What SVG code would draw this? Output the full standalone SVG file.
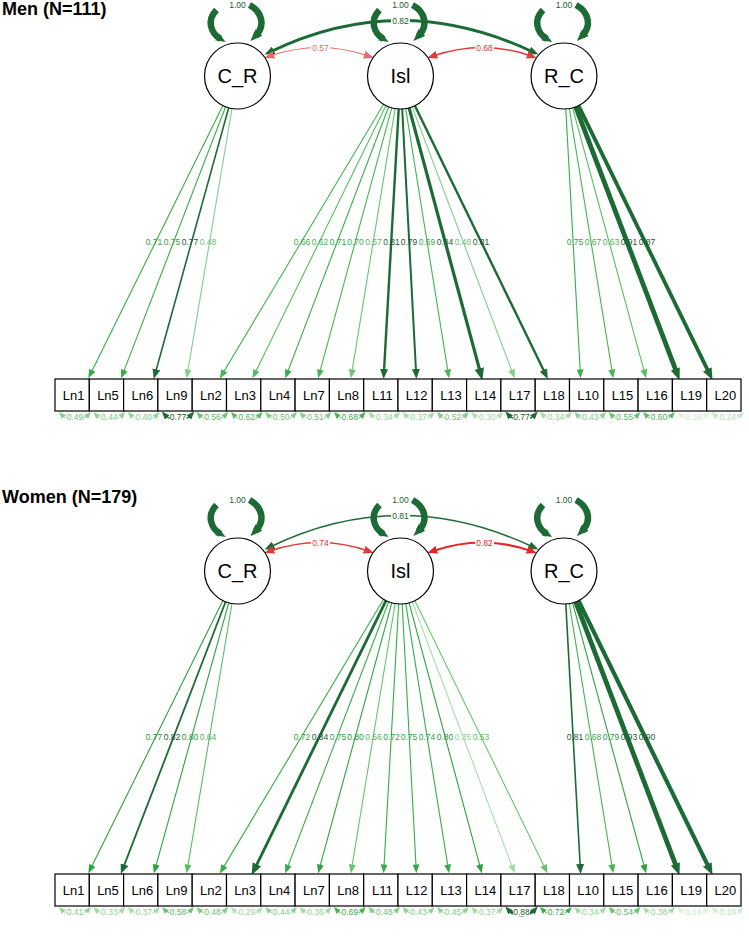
<svg xmlns="http://www.w3.org/2000/svg" xmlns:xlink="http://www.w3.org/1999/xlink" width="749" height="937" viewBox="0 0 749 937">
<style>
text{font-family:"Liberation Sans",Arial,Helvetica,sans-serif}
.t{font-weight:bold;font-size:18px}
.lt{font-size:20px;text-anchor:middle}
.ot{font-size:13px;text-anchor:middle}
.el{font-size:8.5px;text-anchor:middle}
.lat{fill:#fff;stroke:#000;stroke-width:1.2}
.obs{fill:#fff;stroke:#000;stroke-width:1.2}
.ld{fill:none;stroke-width:1.1}
.rs{fill:none;stroke-width:1.1}
.vl{fill:none;stroke:#1d6b34;stroke-width:6.5}
.cv{fill:none}
.ld.c35{stroke:#a3dca6;marker-end:url(#a-c35)}
.ld.c48{stroke:#7fcf85;marker-end:url(#a-c48)}
.ld.c56{stroke:#66c66f;marker-end:url(#a-c56)}
.ld.c62{stroke:#55bf60;marker-end:url(#a-c62)}
.ld.c68{stroke:#44b653;marker-end:url(#a-c68)}
.ld.c73{stroke:#36ad48;marker-end:url(#a-c73)}
.ld.c78{stroke:#2aa33f;marker-end:url(#a-c78)}
.ld.dk{stroke:#1d6b34;marker-end:url(#a-dk)}
.ld.dkL{stroke:#1d6b34;marker-end:url(#a-dkL)}
.rs.c14{stroke:#dcf1de;marker-start:url(#r-c14);marker-end:url(#r-c14)}
.rs.c19{stroke:#cfebd2;marker-start:url(#r-c19);marker-end:url(#r-c19)}
.rs.c24{stroke:#c2e6c6;marker-start:url(#r-c24);marker-end:url(#r-c24)}
.rs.c30{stroke:#b0dfb5;marker-start:url(#r-c30);marker-end:url(#r-c30)}
.rs.c35{stroke:#a3dca6;marker-start:url(#r-c35);marker-end:url(#r-c35)}
.rs.c42{stroke:#8fd493;marker-start:url(#r-c42);marker-end:url(#r-c42)}
.rs.c48{stroke:#7fcf85;marker-start:url(#r-c48);marker-end:url(#r-c48)}
.rs.c56{stroke:#66c66f;marker-start:url(#r-c56);marker-end:url(#r-c56)}
.rs.c62{stroke:#55bf60;marker-start:url(#r-c62);marker-end:url(#r-c62)}
.rs.c68{stroke:#44b653;marker-start:url(#r-c68);marker-end:url(#r-c68)}
.rs.c73{stroke:#36ad48;marker-start:url(#r-c73);marker-end:url(#r-c73)}
.rs.dk{stroke:#1d6b34;marker-start:url(#r-dk);marker-end:url(#r-dk)}
.x14{fill:#c8e9cb}.x19{fill:#bce4c0}.x24{fill:#acdeb1}.x30{fill:#9bd7a0}.x35{fill:#8ed294}
.x42{fill:#7ccb82}.x48{fill:#6bc372}.x56{fill:#56bb61}.x62{fill:#47b453}.x68{fill:#39ab48}
.x73{fill:#2ea23f}.x78{fill:#259a38}.xdk{fill:#1a5a2d}.xr1{fill:#e56b6b}.xr2{fill:#e03a3a}.xr3{fill:#e52424}
</style>
<defs>
<marker id="a-c35" viewBox="0 0 10 8" refX="4" refY="4" markerWidth="9" markerHeight="7" markerUnits="userSpaceOnUse" orient="auto-start-reverse"><path d="M0,0L10,4L0,8z" fill="#a3dca6"/></marker>
<marker id="a-c48" viewBox="0 0 10 8" refX="4" refY="4" markerWidth="9" markerHeight="7" markerUnits="userSpaceOnUse" orient="auto-start-reverse"><path d="M0,0L10,4L0,8z" fill="#7fcf85"/></marker>
<marker id="a-c56" viewBox="0 0 10 8" refX="4" refY="4" markerWidth="9" markerHeight="7" markerUnits="userSpaceOnUse" orient="auto-start-reverse"><path d="M0,0L10,4L0,8z" fill="#66c66f"/></marker>
<marker id="a-c62" viewBox="0 0 10 8" refX="4" refY="4" markerWidth="9" markerHeight="7" markerUnits="userSpaceOnUse" orient="auto-start-reverse"><path d="M0,0L10,4L0,8z" fill="#55bf60"/></marker>
<marker id="a-c68" viewBox="0 0 10 8" refX="4" refY="4" markerWidth="9" markerHeight="7" markerUnits="userSpaceOnUse" orient="auto-start-reverse"><path d="M0,0L10,4L0,8z" fill="#44b653"/></marker>
<marker id="a-c73" viewBox="0 0 10 8" refX="4" refY="4" markerWidth="9" markerHeight="7" markerUnits="userSpaceOnUse" orient="auto-start-reverse"><path d="M0,0L10,4L0,8z" fill="#36ad48"/></marker>
<marker id="a-c78" viewBox="0 0 10 8" refX="4" refY="4" markerWidth="9" markerHeight="7" markerUnits="userSpaceOnUse" orient="auto-start-reverse"><path d="M0,0L10,4L0,8z" fill="#2aa33f"/></marker>
<marker id="a-dk" viewBox="0 0 10 8" refX="4" refY="4" markerWidth="10" markerHeight="8" markerUnits="userSpaceOnUse" orient="auto-start-reverse"><path d="M0,0L10,4L0,8z" fill="#1d6b34"/></marker>
<marker id="a-dkL" viewBox="0 0 10 8" refX="4" refY="4" markerWidth="12" markerHeight="9.6" markerUnits="userSpaceOnUse" orient="auto-start-reverse"><path d="M0,0L10,4L0,8z" fill="#1d6b34"/></marker>
<marker id="a-r1" viewBox="0 0 10 8" refX="4" refY="4" markerWidth="10" markerHeight="8" markerUnits="userSpaceOnUse" orient="auto-start-reverse"><path d="M0,0L10,4L0,8z" fill="#e56b6b"/></marker>
<marker id="a-r2" viewBox="0 0 10 8" refX="4" refY="4" markerWidth="10" markerHeight="8" markerUnits="userSpaceOnUse" orient="auto-start-reverse"><path d="M0,0L10,4L0,8z" fill="#e03a3a"/></marker>
<marker id="a-r3" viewBox="0 0 10 8" refX="4" refY="4" markerWidth="10" markerHeight="8" markerUnits="userSpaceOnUse" orient="auto-start-reverse"><path d="M0,0L10,4L0,8z" fill="#e52424"/></marker>
<marker id="r-c14" viewBox="0 0 10 8" refX="4" refY="4" markerWidth="7" markerHeight="5.6" markerUnits="userSpaceOnUse" orient="auto-start-reverse"><path d="M0,0L10,4L0,8z" fill="#dcf1de"/></marker>
<marker id="r-c19" viewBox="0 0 10 8" refX="4" refY="4" markerWidth="7" markerHeight="5.6" markerUnits="userSpaceOnUse" orient="auto-start-reverse"><path d="M0,0L10,4L0,8z" fill="#cfebd2"/></marker>
<marker id="r-c24" viewBox="0 0 10 8" refX="4" refY="4" markerWidth="7" markerHeight="5.6" markerUnits="userSpaceOnUse" orient="auto-start-reverse"><path d="M0,0L10,4L0,8z" fill="#c2e6c6"/></marker>
<marker id="r-c30" viewBox="0 0 10 8" refX="4" refY="4" markerWidth="7" markerHeight="5.6" markerUnits="userSpaceOnUse" orient="auto-start-reverse"><path d="M0,0L10,4L0,8z" fill="#b0dfb5"/></marker>
<marker id="r-c35" viewBox="0 0 10 8" refX="4" refY="4" markerWidth="7" markerHeight="5.6" markerUnits="userSpaceOnUse" orient="auto-start-reverse"><path d="M0,0L10,4L0,8z" fill="#a3dca6"/></marker>
<marker id="r-c42" viewBox="0 0 10 8" refX="4" refY="4" markerWidth="7" markerHeight="5.6" markerUnits="userSpaceOnUse" orient="auto-start-reverse"><path d="M0,0L10,4L0,8z" fill="#8fd493"/></marker>
<marker id="r-c48" viewBox="0 0 10 8" refX="4" refY="4" markerWidth="7" markerHeight="5.6" markerUnits="userSpaceOnUse" orient="auto-start-reverse"><path d="M0,0L10,4L0,8z" fill="#7fcf85"/></marker>
<marker id="r-c56" viewBox="0 0 10 8" refX="4" refY="4" markerWidth="7" markerHeight="5.6" markerUnits="userSpaceOnUse" orient="auto-start-reverse"><path d="M0,0L10,4L0,8z" fill="#66c66f"/></marker>
<marker id="r-c62" viewBox="0 0 10 8" refX="4" refY="4" markerWidth="7" markerHeight="5.6" markerUnits="userSpaceOnUse" orient="auto-start-reverse"><path d="M0,0L10,4L0,8z" fill="#55bf60"/></marker>
<marker id="r-c68" viewBox="0 0 10 8" refX="4" refY="4" markerWidth="7" markerHeight="5.6" markerUnits="userSpaceOnUse" orient="auto-start-reverse"><path d="M0,0L10,4L0,8z" fill="#44b653"/></marker>
<marker id="r-c73" viewBox="0 0 10 8" refX="4" refY="4" markerWidth="7" markerHeight="5.6" markerUnits="userSpaceOnUse" orient="auto-start-reverse"><path d="M0,0L10,4L0,8z" fill="#36ad48"/></marker>
<marker id="r-dk" viewBox="0 0 10 8" refX="4" refY="4" markerWidth="8" markerHeight="6.4" markerUnits="userSpaceOnUse" orient="auto-start-reverse"><path d="M0,0L10,4L0,8z" fill="#1d6b34"/></marker>
<g id="res"><path d="M-13,415 C-7,421.5 7,421.5 13,415"/><rect x="-8.5" y="412.5" width="17" height="8.5" fill="#fff" stroke="none"/></g>
<g id="vloop"><path class="vl" d="M-21,10 C-31,20 -27,33 -17,39" marker-end="url(#a-dk)"/><path class="vl" d="M12,5 C25,12 28,26 18,36" marker-end="url(#a-dkL)"/><text class="el xdk" x="0" y="8">1.00</text></g>
</defs>
<rect width="749" height="937" fill="#fff"/>

<!-- ================= MEN ================= -->
<g id="men">
<text class="t" x="2" y="15">Men (N=111)</text>
<g id="m-connectors">
<path class="cv" d="M270,52 Q400,-11 533,52" stroke="#1d6b34" stroke-width="3" marker-start="url(#a-dk)" marker-end="url(#a-dk)"/>
<rect x="391" y="17" width="19" height="8" fill="#fff"/><text class="el xdk" x="400.5" y="23.5">0.82</text>
<path class="cv" d="M270,56 Q320,39 368,56" stroke="#e56b6b" stroke-width="1.1" marker-start="url(#a-r1)" marker-end="url(#a-r1)"/>
<rect x="311" y="44" width="19" height="8" fill="#fff"/><text class="el xr1" x="320.5" y="50.5">0.57</text>
<path class="cv" d="M433,56 Q483,39 531,56" stroke="#e03a3a" stroke-width="1.4" marker-start="url(#a-r2)" marker-end="url(#a-r2)"/>
<rect x="475" y="44" width="19" height="8" fill="#fff"/><text class="el xr2" x="484.5" y="50.5">0.68</text>
<use href="#vloop" x="237.5"/>
<use href="#vloop" x="400.5"/>
<use href="#vloop" x="564"/>
<line class="ld c73" x1="222.9" y1="105.6" x2="90.7" y2="373.6"/>
<line class="ld c73" x1="225.6" y1="106.8" x2="123.0" y2="373.4"/>
<line class="ld dk" style="stroke-width:1.6" x1="228.7" y1="107.8" x2="155.3" y2="373.2"/>
<line class="ld c48" x1="232.0" y1="108.5" x2="187.5" y2="373.1"/>
<line class="ld c68" x1="383.6" y1="104.3" x2="222.5" y2="373.9"/>
<line class="ld c62" x1="386.0" y1="105.6" x2="254.8" y2="373.6"/>
<line class="ld c73" x1="388.7" y1="106.8" x2="287.1" y2="373.4"/>
<line class="ld c68" x1="391.8" y1="107.8" x2="319.5" y2="373.2"/>
<line class="ld c56" x1="395.1" y1="108.6" x2="351.7" y2="373.1"/>
<line class="ld dk" style="stroke-width:2.4" x1="398.7" y1="108.9" x2="383.9" y2="373.0"/>
<line class="ld dk" style="stroke-width:2" x1="402.2" y1="109.0" x2="416.1" y2="373.0"/>
<line class="ld c68" x1="405.7" y1="108.6" x2="448.2" y2="373.1"/>
<line class="ld dkL" style="stroke-width:3.2" x1="409.1" y1="107.9" x2="480.5" y2="373.2"/>
<line class="ld c48" x1="412.2" y1="106.9" x2="512.8" y2="373.4"/>
<line class="ld dk" style="stroke-width:2.4" x1="414.9" y1="105.7" x2="545.2" y2="373.6"/>
<line class="ld c73" x1="565.8" y1="108.9" x2="580.3" y2="373.0"/>
<line class="ld c68" x1="569.3" y1="108.6" x2="612.4" y2="373.1"/>
<line class="ld c62" x1="572.6" y1="107.8" x2="644.7" y2="373.2"/>
<line class="ld dkL" style="stroke-width:4.8" x1="575.7" y1="106.9" x2="677.0" y2="373.4"/>
<line class="ld dkL" style="stroke-width:3.8" x1="578.5" y1="105.7" x2="709.4" y2="373.6"/>
<text class="el x73" x="154" y="245">0.71</text>
<text class="el x73" x="172" y="245">0.75</text>
<text class="el xdk" x="190" y="245">0.77</text>
<text class="el x48" x="208" y="245">0.48</text>
<text class="el x68" x="302" y="245">0.66</text>
<text class="el x62" x="320" y="245">0.62</text>
<text class="el x73" x="338" y="245">0.71</text>
<text class="el x68" x="355.5" y="245">0.70</text>
<text class="el x56" x="373.5" y="245">0.57</text>
<text class="el xdk" x="391.5" y="245">0.81</text>
<text class="el xdk" x="409" y="245">0.79</text>
<text class="el x68" x="427" y="245">0.69</text>
<text class="el xdk" x="445" y="245">0.84</text>
<text class="el x48" x="463" y="245">0.48</text>
<text class="el xdk" x="481" y="245">0.81</text>
<text class="el x73" x="575" y="245">0.75</text>
<text class="el x68" x="593" y="245">0.67</text>
<text class="el x62" x="611" y="245">0.63</text>
<text class="el xdk" x="629" y="245">0.91</text>
<text class="el xdk" x="647" y="245">0.87</text>
<use href="#res" x="75" class="rs c48"/><text class="el x48" x="75" y="419.5">0.49</text>
<use href="#res" x="109.35" class="rs c42"/><text class="el x42" x="109.35" y="419.5">0.44</text>
<use href="#res" x="143.7" class="rs c42"/><text class="el x42" x="143.7" y="419.5">0.40</text>
<use href="#res" x="178.05" class="rs dk" style="stroke-width:1.6"/><text class="el xdk" x="178.05" y="419.5">0.77</text>
<use href="#res" x="212.4" class="rs c56"/><text class="el x56" x="212.4" y="419.5">0.56</text>
<use href="#res" x="246.75" class="rs c62"/><text class="el x62" x="246.75" y="419.5">0.62</text>
<use href="#res" x="281.1" class="rs c48"/><text class="el x48" x="281.1" y="419.5">0.50</text>
<use href="#res" x="315.45" class="rs c48"/><text class="el x48" x="315.45" y="419.5">0.51</text>
<use href="#res" x="349.8" class="rs c68"/><text class="el x68" x="349.8" y="419.5">0.68</text>
<use href="#res" x="384.15" class="rs c35"/><text class="el x35" x="384.15" y="419.5">0.34</text>
<use href="#res" x="418.5" class="rs c35"/><text class="el x35" x="418.5" y="419.5">0.37</text>
<use href="#res" x="452.85" class="rs c48"/><text class="el x48" x="452.85" y="419.5">0.52</text>
<use href="#res" x="487.2" class="rs c30"/><text class="el x30" x="487.2" y="419.5">0.30</text>
<use href="#res" x="521.55" class="rs dk" style="stroke-width:1.6"/><text class="el xdk" x="521.55" y="419.5">0.77</text>
<use href="#res" x="555.9" class="rs c35"/><text class="el x35" x="555.9" y="419.5">0.34</text>
<use href="#res" x="590.25" class="rs c42"/><text class="el x42" x="590.25" y="419.5">0.43</text>
<use href="#res" x="624.6" class="rs c56"/><text class="el x56" x="624.6" y="419.5">0.55</text>
<use href="#res" x="658.95" class="rs c62"/><text class="el x62" x="658.95" y="419.5">0.60</text>
<use href="#res" x="693.3" class="rs c14"/><text class="el x14" x="693.3" y="419.5">0.16</text>
<use href="#res" x="727.65" class="rs c24"/><text class="el x24" x="727.65" y="419.5">0.24</text>
</g>
<g id="m-CR"><circle class="lat" cx="237.5" cy="76" r="33"/><text class="lt" x="237.5" y="83">C_R</text></g>
<g id="m-Isl"><circle class="lat" cx="400.5" cy="76" r="33"/><text class="lt" x="400.5" y="83">Isl</text></g>
<g id="m-RC"><circle class="lat" cx="564" cy="76" r="33"/><text class="lt" x="564" y="83">R_C</text></g>
<g id="m-Ln1"><rect class="obs" x="55" y="379" width="34.3" height="32"/><text class="ot" x="73.7" y="399.5">Ln1</text></g>
<g id="m-Ln5"><rect class="obs" x="89.3" y="379" width="34.3" height="32"/><text class="ot" x="108" y="399.5">Ln5</text></g>
<g id="m-Ln6"><rect class="obs" x="123.6" y="379" width="34.3" height="32"/><text class="ot" x="142.3" y="399.5">Ln6</text></g>
<g id="m-Ln9"><rect class="obs" x="157.9" y="379" width="34.3" height="32"/><text class="ot" x="176.6" y="399.5">Ln9</text></g>
<g id="m-Ln2"><rect class="obs" x="192.2" y="379" width="34.3" height="32"/><text class="ot" x="210.9" y="399.5">Ln2</text></g>
<g id="m-Ln3"><rect class="obs" x="226.5" y="379" width="34.3" height="32"/><text class="ot" x="245.2" y="399.5">Ln3</text></g>
<g id="m-Ln4"><rect class="obs" x="260.8" y="379" width="34.3" height="32"/><text class="ot" x="279.5" y="399.5">Ln4</text></g>
<g id="m-Ln7"><rect class="obs" x="295.1" y="379" width="34.3" height="32"/><text class="ot" x="313.8" y="399.5">Ln7</text></g>
<g id="m-Ln8"><rect class="obs" x="329.4" y="379" width="34.3" height="32"/><text class="ot" x="348.1" y="399.5">Ln8</text></g>
<g id="m-L11"><rect class="obs" x="363.7" y="379" width="34.3" height="32"/><text class="ot" x="382.4" y="399.5">L11</text></g>
<g id="m-L12"><rect class="obs" x="398" y="379" width="34.3" height="32"/><text class="ot" x="416.7" y="399.5">L12</text></g>
<g id="m-L13"><rect class="obs" x="432.3" y="379" width="34.3" height="32"/><text class="ot" x="451" y="399.5">L13</text></g>
<g id="m-L14"><rect class="obs" x="466.6" y="379" width="34.3" height="32"/><text class="ot" x="485.3" y="399.5">L14</text></g>
<g id="m-L17"><rect class="obs" x="500.9" y="379" width="34.3" height="32"/><text class="ot" x="519.6" y="399.5">L17</text></g>
<g id="m-L18"><rect class="obs" x="535.2" y="379" width="34.3" height="32"/><text class="ot" x="553.9" y="399.5">L18</text></g>
<g id="m-L10"><rect class="obs" x="569.5" y="379" width="34.3" height="32"/><text class="ot" x="588.2" y="399.5">L10</text></g>
<g id="m-L15"><rect class="obs" x="603.8" y="379" width="34.3" height="32"/><text class="ot" x="622.5" y="399.5">L15</text></g>
<g id="m-L16"><rect class="obs" x="638.1" y="379" width="34.3" height="32"/><text class="ot" x="656.8" y="399.5">L16</text></g>
<g id="m-L19"><rect class="obs" x="672.4" y="379" width="34.3" height="32"/><text class="ot" x="691.1" y="399.5">L19</text></g>
<g id="m-L20"><rect class="obs" x="706.7" y="379" width="34.3" height="32"/><text class="ot" x="725.4" y="399.5">L20</text></g>
</g>

<!-- ================= WOMEN ================= -->
<text class="t" x="2" y="503">Women (N=179)</text>
<g id="women" transform="translate(0,495)">
<g id="w-connectors">
<path class="cv" d="M270,52 Q400,-11 533,52" stroke="#1d6b34" stroke-width="1.6" marker-start="url(#a-dk)" marker-end="url(#a-dk)"/>
<rect x="391" y="17" width="19" height="8" fill="#fff"/><text class="el xdk" x="400.5" y="23.5">0.81</text>
<path class="cv" d="M270,56 Q320,39 368,56" stroke="#e03a3a" stroke-width="1.4" marker-start="url(#a-r2)" marker-end="url(#a-r2)"/>
<rect x="311" y="44" width="19" height="8" fill="#fff"/><text class="el xr2" x="320.5" y="50.5">0.74</text>
<path class="cv" d="M433,56 Q483,39 531,56" stroke="#e52424" stroke-width="2.2" marker-start="url(#a-r3)" marker-end="url(#a-r3)"/>
<rect x="475" y="44" width="19" height="8" fill="#fff"/><text class="el xr3" x="484.5" y="50.5">0.82</text>
<use href="#vloop" x="237.5"/>
<use href="#vloop" x="400.5"/>
<use href="#vloop" x="564"/>
<line class="ld c78" x1="222.9" y1="105.6" x2="90.7" y2="373.6"/>
<line class="ld dk" style="stroke-width:1.8" x1="225.6" y1="106.8" x2="123.0" y2="373.4"/>
<line class="ld c78" x1="228.7" y1="107.8" x2="155.3" y2="373.2"/>
<line class="ld c62" x1="232.0" y1="108.5" x2="187.5" y2="373.1"/>
<line class="ld c73" x1="383.6" y1="104.3" x2="222.5" y2="373.9"/>
<line class="ld dkL" style="stroke-width:2.8" x1="386.0" y1="105.6" x2="254.8" y2="373.6"/>
<line class="ld c73" x1="388.7" y1="106.8" x2="287.1" y2="373.4"/>
<line class="ld c78" x1="391.8" y1="107.8" x2="319.5" y2="373.2"/>
<line class="ld c56" x1="395.1" y1="108.6" x2="351.7" y2="373.1"/>
<line class="ld c73" x1="398.7" y1="108.9" x2="383.9" y2="373.0"/>
<line class="ld c73" x1="402.2" y1="109.0" x2="416.1" y2="373.0"/>
<line class="ld c73" x1="405.7" y1="108.6" x2="448.2" y2="373.1"/>
<line class="ld c78" x1="409.1" y1="107.9" x2="480.5" y2="373.2"/>
<line class="ld c35" x1="412.2" y1="106.9" x2="512.8" y2="373.4"/>
<line class="ld c56" x1="414.9" y1="105.7" x2="545.2" y2="373.6"/>
<line class="ld dk" style="stroke-width:1.6" x1="565.8" y1="108.9" x2="580.3" y2="373.0"/>
<line class="ld c68" x1="569.3" y1="108.6" x2="612.4" y2="373.1"/>
<line class="ld c78" x1="572.6" y1="107.8" x2="644.7" y2="373.2"/>
<line class="ld dkL" style="stroke-width:4.8" x1="575.7" y1="106.9" x2="677.0" y2="373.4"/>
<line class="ld dkL" style="stroke-width:4.2" x1="578.5" y1="105.7" x2="709.4" y2="373.6"/>
<text class="el x78" x="154" y="245">0.77</text>
<text class="el xdk" x="172" y="245">0.82</text>
<text class="el x78" x="190" y="245">0.80</text>
<text class="el x62" x="208" y="245">0.64</text>
<text class="el x73" x="302" y="245">0.72</text>
<text class="el xdk" x="320" y="245">0.84</text>
<text class="el x73" x="338" y="245">0.75</text>
<text class="el x78" x="355.5" y="245">0.80</text>
<text class="el x56" x="373.5" y="245">0.56</text>
<text class="el x73" x="391.5" y="245">0.72</text>
<text class="el x73" x="409" y="245">0.75</text>
<text class="el x73" x="427" y="245">0.74</text>
<text class="el x78" x="445" y="245">0.80</text>
<text class="el x35" x="463" y="245">0.35</text>
<text class="el x56" x="481" y="245">0.53</text>
<text class="el xdk" x="575" y="245">0.81</text>
<text class="el x68" x="593" y="245">0.68</text>
<text class="el x78" x="611" y="245">0.79</text>
<text class="el xdk" x="629" y="245">0.93</text>
<text class="el xdk" x="647" y="245">0.90</text>
<use href="#res" x="75" class="rs c42"/><text class="el x42" x="75" y="419.5">0.41</text>
<use href="#res" x="109.35" class="rs c35"/><text class="el x35" x="109.35" y="419.5">0.33</text>
<use href="#res" x="143.7" class="rs c35"/><text class="el x35" x="143.7" y="419.5">0.37</text>
<use href="#res" x="178.05" class="rs c56"/><text class="el x56" x="178.05" y="419.5">0.58</text>
<use href="#res" x="212.4" class="rs c48"/><text class="el x48" x="212.4" y="419.5">0.48</text>
<use href="#res" x="246.75" class="rs c30"/><text class="el x30" x="246.75" y="419.5">0.29</text>
<use href="#res" x="281.1" class="rs c42"/><text class="el x42" x="281.1" y="419.5">0.44</text>
<use href="#res" x="315.45" class="rs c35"/><text class="el x35" x="315.45" y="419.5">0.36</text>
<use href="#res" x="349.8" class="rs c68"/><text class="el x68" x="349.8" y="419.5">0.69</text>
<use href="#res" x="384.15" class="rs c48"/><text class="el x48" x="384.15" y="419.5">0.48</text>
<use href="#res" x="418.5" class="rs c42"/><text class="el x42" x="418.5" y="419.5">0.43</text>
<use href="#res" x="452.85" class="rs c42"/><text class="el x42" x="452.85" y="419.5">0.45</text>
<use href="#res" x="487.2" class="rs c35"/><text class="el x35" x="487.2" y="419.5">0.37</text>
<use href="#res" x="521.55" class="rs dk" style="stroke-width:3"/><text class="el xdk" x="521.55" y="419.5">0.88</text>
<use href="#res" x="555.9" class="rs c73"/><text class="el x73" x="555.9" y="419.5">0.72</text>
<use href="#res" x="590.25" class="rs c35"/><text class="el x35" x="590.25" y="419.5">0.34</text>
<use href="#res" x="624.6" class="rs c56"/><text class="el x56" x="624.6" y="419.5">0.54</text>
<use href="#res" x="658.95" class="rs c35"/><text class="el x35" x="658.95" y="419.5">0.38</text>
<use href="#res" x="693.3" class="rs c14"/><text class="el x14" x="693.3" y="419.5">0.14</text>
<use href="#res" x="727.65" class="rs c19"/><text class="el x19" x="727.65" y="419.5">0.19</text>
</g>
<g id="w-CR"><circle class="lat" cx="237.5" cy="76" r="33"/><text class="lt" x="237.5" y="83">C_R</text></g>
<g id="w-Isl"><circle class="lat" cx="400.5" cy="76" r="33"/><text class="lt" x="400.5" y="83">Isl</text></g>
<g id="w-RC"><circle class="lat" cx="564" cy="76" r="33"/><text class="lt" x="564" y="83">R_C</text></g>
<g id="w-Ln1"><rect class="obs" x="55" y="379" width="34.3" height="32"/><text class="ot" x="73.7" y="399.5">Ln1</text></g>
<g id="w-Ln5"><rect class="obs" x="89.3" y="379" width="34.3" height="32"/><text class="ot" x="108" y="399.5">Ln5</text></g>
<g id="w-Ln6"><rect class="obs" x="123.6" y="379" width="34.3" height="32"/><text class="ot" x="142.3" y="399.5">Ln6</text></g>
<g id="w-Ln9"><rect class="obs" x="157.9" y="379" width="34.3" height="32"/><text class="ot" x="176.6" y="399.5">Ln9</text></g>
<g id="w-Ln2"><rect class="obs" x="192.2" y="379" width="34.3" height="32"/><text class="ot" x="210.9" y="399.5">Ln2</text></g>
<g id="w-Ln3"><rect class="obs" x="226.5" y="379" width="34.3" height="32"/><text class="ot" x="245.2" y="399.5">Ln3</text></g>
<g id="w-Ln4"><rect class="obs" x="260.8" y="379" width="34.3" height="32"/><text class="ot" x="279.5" y="399.5">Ln4</text></g>
<g id="w-Ln7"><rect class="obs" x="295.1" y="379" width="34.3" height="32"/><text class="ot" x="313.8" y="399.5">Ln7</text></g>
<g id="w-Ln8"><rect class="obs" x="329.4" y="379" width="34.3" height="32"/><text class="ot" x="348.1" y="399.5">Ln8</text></g>
<g id="w-L11"><rect class="obs" x="363.7" y="379" width="34.3" height="32"/><text class="ot" x="382.4" y="399.5">L11</text></g>
<g id="w-L12"><rect class="obs" x="398" y="379" width="34.3" height="32"/><text class="ot" x="416.7" y="399.5">L12</text></g>
<g id="w-L13"><rect class="obs" x="432.3" y="379" width="34.3" height="32"/><text class="ot" x="451" y="399.5">L13</text></g>
<g id="w-L14"><rect class="obs" x="466.6" y="379" width="34.3" height="32"/><text class="ot" x="485.3" y="399.5">L14</text></g>
<g id="w-L17"><rect class="obs" x="500.9" y="379" width="34.3" height="32"/><text class="ot" x="519.6" y="399.5">L17</text></g>
<g id="w-L18"><rect class="obs" x="535.2" y="379" width="34.3" height="32"/><text class="ot" x="553.9" y="399.5">L18</text></g>
<g id="w-L10"><rect class="obs" x="569.5" y="379" width="34.3" height="32"/><text class="ot" x="588.2" y="399.5">L10</text></g>
<g id="w-L15"><rect class="obs" x="603.8" y="379" width="34.3" height="32"/><text class="ot" x="622.5" y="399.5">L15</text></g>
<g id="w-L16"><rect class="obs" x="638.1" y="379" width="34.3" height="32"/><text class="ot" x="656.8" y="399.5">L16</text></g>
<g id="w-L19"><rect class="obs" x="672.4" y="379" width="34.3" height="32"/><text class="ot" x="691.1" y="399.5">L19</text></g>
<g id="w-L20"><rect class="obs" x="706.7" y="379" width="34.3" height="32"/><text class="ot" x="725.4" y="399.5">L20</text></g>
</g>
</svg>
